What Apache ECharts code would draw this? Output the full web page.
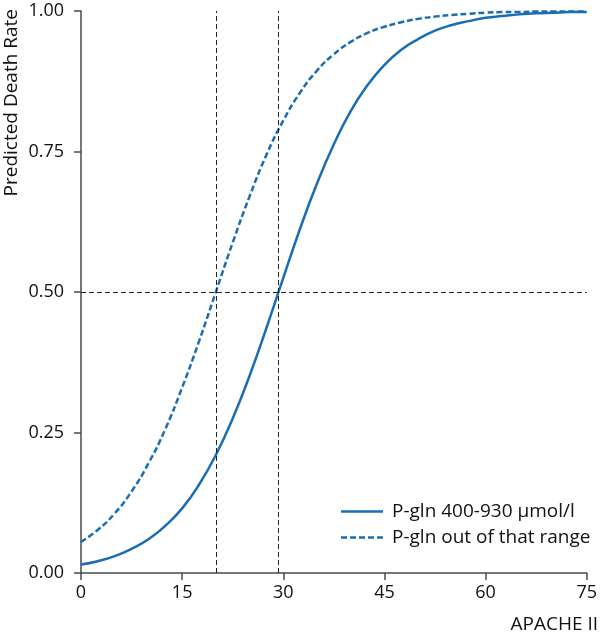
<!DOCTYPE html>
<html><head><meta charset="utf-8">
<script src="https://cdn.jsdelivr.net/npm/echarts@6/dist/echarts.min.js"></script>
<style>html,body{margin:0;padding:0;background:#fff}#c{width:600px;height:637px}</style>
</head><body><div id="c"></div>
<script>
const xValues = [0,2.5,5,7.5,10,12.5,15,17.5,20,22.5,25,27.5,30,32.5,35,37.5,40,42.5,45,47.5,50,52.5,55,57.5,60,62.5,65,67.5,70,72.5,75];
const inRange = [0.015,0.021,0.030,0.043,0.060,0.084,0.115,0.157,0.210,0.275,0.351,0.436,0.525,0.613,0.693,0.763,0.822,0.868,0.904,0.931,0.950,0.965,0.975,0.982,0.988,0.991,0.994,0.996,0.997,0.998,0.998];
const outRange = [0.055,0.077,0.106,0.145,0.195,0.256,0.330,0.412,0.500,0.588,0.670,0.744,0.805,0.855,0.894,0.923,0.945,0.961,0.972,0.980,0.986,0.990,0.993,0.995,0.997,0.998,0.998,0.999,0.999,0.999,0.999];
const refX = [20, 29.3];
const refY = [0.5];
const seriesNames = ['P-gln 400-930 \u00b5mol/l', 'P-gln out of that range'];
const xLabel = 'APACHE II';
const yLabel = 'Predicted Death Rate';

const FONT = 'Open Sans';
const blue = '#1b6db3';
const chart = echarts.init(document.getElementById('c'));
const pairs = a => xValues.map((x, i) => [x, a[i]]);
const solidIcon = 'path://M0,0h42v2.5h-42z';
const dashIcon = 'path://M0,0h6v2.5h-6zM9,0h6v2.5h-6zM18,0h6v2.5h-6zM27,0h6v2.5h-6zM36,0h6v2.5h-6z';
chart.setOption({
  animation: false,
  grid: {left: 81, right: 9, top: 11, bottom: 64},
  xAxis: {type: 'value', min: 0, max: 75, interval: 15,
    axisLine: {lineStyle: {color: '#4a4a4a', width: 1.5}},
    axisTick: {length: 7, lineStyle: {color: '#4a4a4a', width: 1.5}},
    axisLabel: {color: '#111', fontSize: 18, fontFamily: FONT, margin: 11},
    splitLine: {show: false}},
  yAxis: {type: 'value', min: 0, max: 1, interval: 0.25,
    axisLine: {show: true, lineStyle: {color: '#4a4a4a', width: 1.5}},
    axisTick: {show: true, length: 7, lineStyle: {color: '#4a4a4a', width: 1.5}},
    axisLabel: {color: '#111', fontSize: 18, fontFamily: FONT, margin: 17, formatter: v => v.toFixed(2)},
    splitLine: {show: false}},
  legend: {orient: 'vertical', left: 336, top: 497, itemWidth: 42, itemHeight: 2.5, itemGap: 7,
    textStyle: {color: '#111', fontSize: 19, fontFamily: FONT, padding: [0, 0, 0, 4]},
    data: [{name: seriesNames[0], icon: solidIcon}, {name: seriesNames[1], icon: dashIcon}]},
  graphic: [
    {type: 'text', x: 12, y: 9, rotation: Math.PI / 2,
     style: {text: yLabel, fill: '#111', fontSize: 19, fontFamily: FONT, textAlign: 'right', textVerticalAlign: 'middle'}},
    {type: 'text', x: 598, y: 625,
     style: {text: xLabel, fill: '#111', fontSize: 19, fontFamily: FONT, textAlign: 'right', textVerticalAlign: 'middle'}}
  ],
  series: [
    {name: seriesNames[0], type: 'line', smooth: true, symbol: 'none', data: pairs(inRange),
     lineStyle: {color: blue, width: 2.5}, itemStyle: {color: blue}, z: 3,
     markLine: {silent: true, symbol: 'none', label: {show: false},
       lineStyle: {color: '#222', type: [5, 3], width: 1},
       data: refX.map(v => ({xAxis: v})).concat(refY.map(v => ({yAxis: v})))}},
    {name: seriesNames[1], type: 'line', smooth: true, symbol: 'none', data: pairs(outRange),
     lineStyle: {color: blue, width: 2.5, type: [6, 3]}, itemStyle: {color: blue}, z: 3}
  ]
});
</script></body></html>
